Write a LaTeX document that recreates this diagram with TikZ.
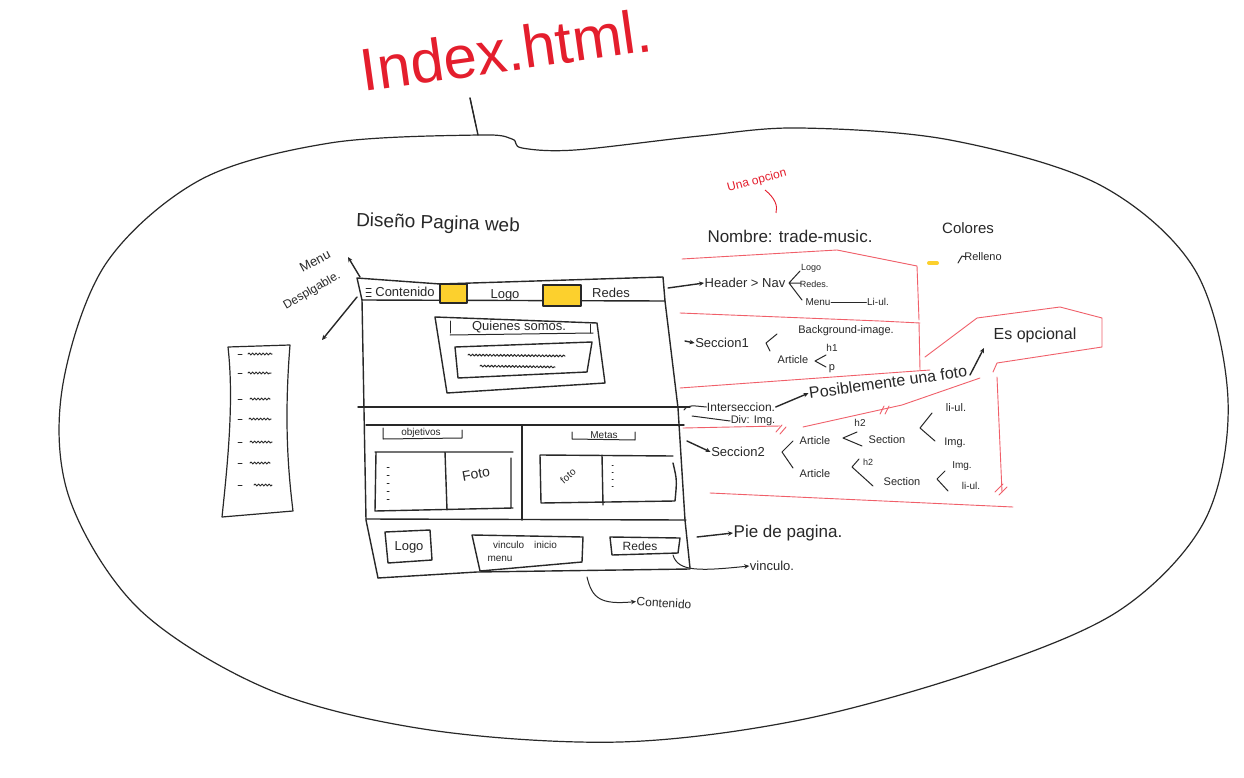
\documentclass[tikz,border=0pt]{standalone}
\usepackage{fontspec}
\setmainfont{Liberation Sans}
\usetikzlibrary{arrows.meta,decorations.pathmorphing}
\definecolor{penred}{RGB}{228,30,45}
\definecolor{lred}{RGB}{240,95,105}
\definecolor{yel}{RGB}{252,208,45}
\definecolor{ink}{RGB}{40,40,40}
\newcommand\hw[1]{\fontsize{#1}{#1}\selectfont}
\tikzset{
 pen/.style={draw=ink,line width=1.4pt,line cap=round,line join=round},
 tpen/.style={draw=ink,line width=1pt,line cap=round,line join=round},
 rpen/.style={draw=lred,line width=0.9pt,line cap=round,line join=round},
 lbl/.style={inner sep=0.5pt,text=ink},
 arr/.style={-{Stealth[length=5pt,width=4.5pt]}},
 wig/.style={decorate,decoration={snake,segment length=3.5pt,amplitude=0.9pt}},
}
\begin{document}
\begin{tikzpicture}[x=1pt,y=-1pt]
\useasboundingbox[fill=white] (0,0) rectangle (1244,778);

% ---- title
\node[text=penred,font=\hw{60},rotate=8] (title) at (506,50) {Index.html.};

% ---- blob
\draw[pen,line width=1.2pt] plot[smooth cycle,tension=0.55] coordinates {
 (478,135) (512,139) (522,148) (575,150) (700,136) (800,128) (950,140)
 (1100,185) (1195,270) (1228,400) (1205,520) (1120,610) (980,670)
 (800,720) (620,742) (430,730) (270,690) (140,610) (70,500) (62,390)
 (105,265) (200,180) (330,143)};
\coordinate (spT) at (470,98);
\coordinate (spB) at (478,135);
\draw[pen] (spT) -- (spB);
\draw[tpen] (spT) -- (476,126);

% ---- heading
\node[lbl,font=\hw{19},rotate=-2] (dis) at (438,224) {Diseño Pagina web};
\node[lbl,font=\hw{13},rotate=28] (menu) at (315,261) {Menu};
\node[lbl,font=\hw{12},rotate=30] (despl) at (312,291) {Desplgable.};

% ---- left dropdown list
\draw[pen,line width=1.2pt] (228,347) -- (290,345) .. controls (284,420) and (288,470) .. (293,511)
  -- (222,517) .. controls (228,460) and (234,400) .. (228,347);
\foreach \yy/\xa/\xb in {354/248/272,373/248/271,399/250/270,419/249/271,442/250/272,463/250/270,485/254/272}{
  \draw[tpen] (238,\yy) -- (242,\yy);
  \draw[tpen,wig] (\xa,\yy) -- (\xb,\yy);
}
\node[inner sep=0pt] (list) at (256,430) {};

% ---- mockup header bar
\coordinate (h1) at (357,278);
\coordinate (h2) at (440,284);
\coordinate (h3) at (663,277);
\coordinate (h4) at (665,301);
\coordinate (h5) at (362,300);
\draw[pen] (h1) -- (h2) -- (h3) -- (h4) -- (h5) -- cycle;
\draw[pen,fill=yel] (440,284) rectangle (467,303);
\draw[pen,fill=yel] (543,285) rectangle (581,306);
\draw[tpen] (366,288) -- (371,288) (366,292) -- (371,292) (366,296) -- (371,296);
\node[lbl,font=\hw{13}] (hcont) at (405,292) {Contenido};
\node[lbl,font=\hw{13}] (hlogo) at (505,295) {Logo};
\node[lbl,font=\hw{13}] (hredes) at (611,293) {Redes};

% arrows from header
\coordinate (mA) at (360,277);
\coordinate (mB) at (357,297);
\draw[pen,arr] (mA) -- (348,257);
\draw[pen,arr] (mB) -- (322,340);

% ---- frame
\draw[pen] (h5) -- (366,520) -- (378,578);
\draw[pen] (h4) -- (678,408) -- (685,520) -- (690,568);
\draw[pen] (358,407) -- (690,407);
\draw[pen] (366,425) -- (684,425);
\draw[pen] (522,425) -- (522,520);
\draw[pen] (366,519) -- (686,520);
\draw[pen] (378,578) -- (477,572) -- (690,569);

% ---- quienes somos box
\draw[pen] (435,317) -- (597,323) -- (605,383) -- (447,393) -- cycle;
\draw[tpen] (450,335) -- (593,333);
\draw[tpen] (450,321) -- (450,333) (590,324) -- (590,333);
\node[lbl,font=\hw{13}] (quien) at (519,327) {Quienes somos.};
\draw[pen] (455,347) -- (592,342) -- (587,372) -- (458,378) -- cycle;
\draw[tpen,wig] (468,355) -- (565,356);
\draw[tpen,wig] (480,366) -- (555,367);

% ---- seccion 2 (two columns)
\draw[tpen] (383,428) -- (383,439) -- (462,438) -- (462,430);
\node[lbl,font=\hw{10}] (obj) at (421,433) {objetivos};
\draw[tpen] (572,432) -- (572,439) -- (635,440) -- (635,432);
\node[lbl,font=\hw{10}] (metas) at (604,435) {Metas};
\draw[pen] (375,452) -- (513,452) (376,452) -- (375,511) -- (513,508) (511,458) -- (511,508) (445,452) -- (447,510);
\foreach \yy in {467,475,483,491,499}{ \draw[tpen] (387,\yy) -- (389,\yy); }
\node[lbl,font=\hw{14},rotate=10] (foto1) at (476,474) {Foto};
\draw[pen] (540,455) -- (673,456) (540,455) -- (541,503) -- (675,501) (673,463) .. controls (677,480) .. (675,501) (602,455) -- (603,505);
\foreach \yy in {465,472,479,486}{ \draw[tpen] (612,\yy) -- (613,\yy); }
\node[lbl,font=\hw{10},rotate=40] (foto2) at (568,476) {foto};

% ---- footer
\draw[pen] (385,532) -- (430,530) -- (432,560) -- (388,563) -- cycle;
\node[lbl,font=\hw{13}] (flogo) at (409,547) {Logo};
\draw[pen] (472,535) -- (583,537) -- (582,562) -- (480,571) -- (472,535);
\node[lbl,font=\hw{10}] (fvinc) at (525,545) {vinculo\quad inicio};
\node[lbl,font=\hw{10}] (fmenu) at (500,559) {menu};
\draw[pen] (610,537) -- (680,538) -- (678,553) -- (612,555) -- cycle;
\node[lbl,font=\hw{12}] (fredes) at (640,546) {Redes};

\node[lbl,font=\hw{17}] (pie) at (788,533) {Pie de pagina.};
\coordinate (pieS) at (697,537);
\draw[pen,arr] (pieS) -- (pie.west);
\node[lbl,font=\hw{13}] (vinc) at (772,566) {vinculo.};
\draw[tpen,arr] (673,555) .. controls (678,572) and (700,571) .. (vinc.west);
\node[lbl,font=\hw{12},rotate=-3] (cont) at (664,603) {Contenido};
\coordinate (contS) at (587,577);
\draw[tpen,arr] (contS) .. controls (592,598) and (600,605) .. (cont.west);

% ---- right annotations: name & colours
\node[text=penred,font=\hw{12},rotate=15] (opc) at (757,181) {Una opcion};
\draw[draw=penred,line width=0.9pt] (765,190) .. controls (775,198) and (778,206) .. (776,213);
\node[lbl,font=\hw{17}] (nom) at (790,236) {Nombre: trade-music.};
\node[lbl,font=\hw{15}] (col) at (968,228) {Colores};
\draw[draw=yel,line width=4pt,line cap=round] (929,263) -- (937,263);
\node[lbl,font=\hw{11}] (rell) at (983,257) {Relleno};
\draw[tpen] (958,263) -- (962,256) -- (966,257);

% red boxes
\draw[rpen] (682,259) -- (837,250) -- (917,266) -- (919,320);
\draw[rpen] (680,313) -- (880,321) -- (920,323);
\draw[rpen] (919,323) -- (920,370);
\draw[rpen] (680,388) -- (930,370);
\draw[rpen] (925,357) -- (977,318) -- (1060,307) -- (1102,318) -- (1102,347) -- (997,363) -- (993,372);
\draw[rpen] (997,377) -- (1002,492);
\draw[rpen] (995,492) -- (1003,484) (999,495) -- (1007,487);
\draw[rpen] (683,428) -- (780,426);
\draw[rpen] (776,432) -- (782,425) (780,434) -- (786,427);
\draw[rpen] (803,427) -- (902,405) -- (980,378);
\draw[rpen] (880,414) -- (884,406) (885,414) -- (889,406);
\draw[rpen] (710,493) -- (1013,507);

% header annotation
\node[lbl,font=\hw{13}] (hdr) at (745,283) {Header > Nav};
\coordinate (hdrS) at (668,288);
\draw[pen,arr] (hdrS) -- (hdr.west);
\coordinate (hb) at (789,283);
\draw[tpen] (800,271) -- (hb) -- (802,300) (hb) -- (801,283);
\node[lbl,font=\hw{9}] (nlogo) at (811,268) {Logo};
\node[lbl,font=\hw{9}] (nredes) at (814,284) {Redes.};
\node[lbl,font=\hw{10}] (nmenu) at (818,302) {Menu};
\node[lbl,font=\hw{10}] (nli) at (878,302) {Li-ul.};
\draw[tpen] (nmenu.east) -- (nli.west);

% seccion 1
\node[lbl,font=\hw{13}] (s1) at (722,343) {Seccion1};
\coordinate (s1S) at (685,341);
\draw[pen,arr] (s1S) -- (s1.west);
\coordinate (s1b) at (766,343);
\draw[tpen] (777,334) -- (s1b) -- (770,351);
\node[lbl,font=\hw{11}] (bg) at (846,331) {Background-image.};
\node[lbl,font=\hw{11}] (art1) at (793,360) {Article};
\coordinate (a1b) at (815,361);
\draw[tpen] (826,355) -- (a1b) -- (826,367);
\node[lbl,font=\hw{10}] (h1t) at (832,348) {h1};
\node[lbl,font=\hw{11}] (p1) at (832,369) {p};

% interseccion
\node[lbl,font=\hw{12}] (inter) at (741,407) {Interseccion.};
\node[lbl,font=\hw{16},rotate=8] (posib) at (888,382) {Posiblemente una foto};
\draw[pen,arr] (inter.east) -- (posib.west);
\coordinate (iS) at (684,410);
\draw[tpen] (iS) .. controls (688,404) and (694,406) .. (inter.west);
\node[lbl,font=\hw{11}] (div) at (753,421) {Div: Img.};
\draw[tpen] (692,416) -- (div.west);
\node[lbl,font=\hw{16}] (esop) at (1035,335) {Es opcional};
\draw[pen,arr] (970,375) -- (984,348);

% seccion 2
\node[lbl,font=\hw{13}] (s2) at (738,452) {Seccion2};
\coordinate (s2S) at (687,441);
\draw[pen,arr] (s2S) -- (s2.west);
\coordinate (s2b) at (782,452);
\draw[tpen] (793,441) -- (s2b) -- (793,468);
\node[lbl,font=\hw{11}] (art2) at (815,441) {Article};
\coordinate (a2b) at (843,438);
\draw[tpen] (857,432) -- (a2b) -- (862,446);
\node[lbl,font=\hw{10}] (h2a) at (860,423) {h2};
\node[lbl,font=\hw{11}] (sec2a) at (887,440) {Section};
\coordinate (sab) at (920,428);
\draw[tpen] (932,413) -- (sab) -- (935,441);
\node[lbl,font=\hw{11}] (lia) at (956,408) {li-ul.};
\node[lbl,font=\hw{11}] (imga) at (955,443) {Img.};
\node[lbl,font=\hw{11}] (art3) at (815,474) {Article};
\coordinate (a3b) at (852,467);
\draw[tpen] (859,459) -- (a3b) -- (873,486);
\node[lbl,font=\hw{9}] (h2b) at (868,462) {h2};
\node[lbl,font=\hw{11}] (sec2b) at (902,482) {Section};
\coordinate (sbb) at (937,479);
\draw[tpen] (945,471) -- (sbb) -- (948,491);
\node[lbl,font=\hw{10}] (imgb) at (962,466) {Img.};
\node[lbl,font=\hw{10}] (lib) at (971,486) {li-ul.};
\end{tikzpicture}
\end{document}
